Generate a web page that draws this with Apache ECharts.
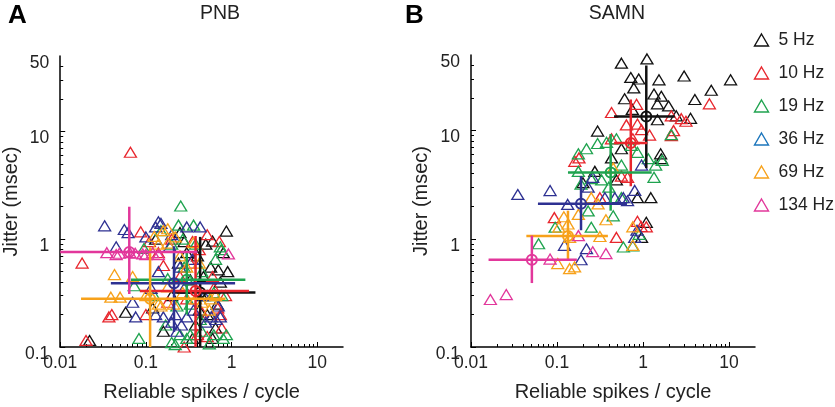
<!DOCTYPE html>
<html><head><meta charset="utf-8">
<script src="https://cdn.jsdelivr.net/npm/echarts@6/dist/echarts.min.js"></script>
<style>html,body{margin:0;padding:0;background:#fff}#c{width:835px;height:407px}</style>
</head><body><div id="c"></div>
<script>
// ---------- data ----------
const freqs = ['5 Hz','10 Hz','19 Hz','36 Hz','69 Hz','134 Hz'];
const colors = ['#111111','#e8262d','#1fa34f','#2e3192','#f7a11a','#e2379b'];
const legendColors = ['#111111','#e8262d','#1fa34f','#1b75bc','#f7a11a','#e2379b'];
const panelTitles = ['PNB','SAMN'];
const panelLetters = ['A','B'];
const xName = 'Reliable spikes / cycle';
const yName = 'Jitter (msec)';
const xTickLabels = ['0.01','0.1','1','10'];
const yTickLabels = ['0.1','1','10','50'];
const xMajorTicks = [0.01,0.1,1,10];
const yMajorTicks = [0.1,1,10];
const yLabelValues = [0.1,1,10,50];
const xMinorTicks = [0.02,0.03,0.04,0.05,0.06,0.07,0.08,0.09,0.2,0.3,0.4,0.5,0.6,0.7,0.8,0.9,2,3,4,5,6,7,8,9];
const yMinorTicks = [0.2,0.3,0.4,0.5,0.6,0.7,0.8,0.9,2,3,4,5,6,7,8,9,20,30,40];

// Panel A (PNB) : [reliable spikes/cycle, jitter ms]
const A_5Hz = [[0.87,1.19],[0.13,1.0],[0.6,0.96],[0.57,0.55],[0.7,0.52],[0.9,0.5],[0.47,0.45],[0.058,0.21],[0.16,0.14],[0.022,0.115],[0.12,0.23],[0.35,0.12],[0.6,0.12],[0.4,0.7],[0.74,0.4],[0.3,0.75],[0.45,0.3],[0.24,0.6],[0.52,0.2],[0.28,0.95],[0.68,0.25],[0.8,0.75],[0.38,0.16],[0.5,0.9],[0.2,0.3],[0.33,0.42],[0.65,0.15],[0.25,1.15],[0.42,0.22]];
const A_10Hz = [[0.066,6.4],[0.018,0.6],[0.037,0.19],[0.02,0.115],[0.28,0.1],[0.087,1.17],[0.1,0.2],[0.52,1.1],[0.72,0.95],[0.35,0.95],[0.69,0.23],[0.74,0.2],[0.77,0.15],[0.45,0.21],[0.16,0.57],[0.14,0.75],[0.52,0.125],[0.25,0.45],[0.3,0.28],[0.6,0.45],[0.42,0.8],[0.2,1.0],[0.11,0.95],[0.85,0.3],[0.04,0.2],[0.33,0.6],[0.62,0.35],[0.4,0.13],[0.18,0.26]];
const A_19Hz = [[0.255,2.03],[0.24,1.35],[0.36,1.35],[0.083,0.12],[0.2,0.11],[0.22,0.105],[0.55,0.107],[0.87,0.13],[0.8,0.12],[0.74,0.85],[0.76,0.8],[0.27,1.0],[0.125,0.3],[0.073,0.37],[0.23,0.24],[0.43,0.18],[0.25,0.13],[0.62,0.32],[0.77,0.3],[0.095,0.82],[0.18,0.43],[0.3,0.12],[0.33,0.13],[0.45,0.14],[0.62,0.13],[0.2,0.9],[0.45,0.5],[0.15,1.2],[0.65,0.65],[0.33,0.25],[0.28,0.55],[0.52,0.3],[0.38,0.9],[0.17,0.16]];
const A_36Hz = [[0.033,1.33],[0.056,1.23],[0.062,1.15],[0.045,0.85],[0.13,1.3],[0.14,1.45],[0.15,1.4],[0.3,1.3],[0.43,1.3],[0.14,0.5],[0.07,0.26],[0.076,0.19],[0.16,0.19],[0.2,0.17],[0.22,0.2],[0.26,0.16],[0.3,0.19],[0.58,0.19],[0.66,0.18],[0.74,0.19],[0.23,0.14],[0.19,0.86],[0.1,1.05],[0.25,0.55],[0.48,0.3],[0.115,0.35],[0.2,1.1],[0.36,0.22],[0.5,0.17],[0.13,0.2],[0.35,0.65],[0.28,0.35],[0.7,0.24]];
const A_69Hz = [[0.043,0.47],[0.039,0.29],[0.05,0.29],[0.18,1.25],[0.16,1.2],[0.36,0.93],[0.18,0.36],[0.38,0.28],[0.57,0.28],[0.125,1.06],[0.07,0.45],[0.21,0.25],[0.14,0.9],[0.18,0.92],[0.14,0.25],[0.15,0.24],[0.3,0.55],[0.45,0.26],[0.65,0.3],[0.1,0.3],[0.25,0.7],[0.55,0.22],[0.27,0.32],[0.22,1.05],[0.42,0.6]];
const A_134Hz = [[0.092,0.73],[0.065,0.75],[0.049,0.74],[0.1,0.72],[0.14,0.72],[0.045,0.72],[0.075,0.74],[0.12,0.75],[0.92,0.73],[0.035,0.75]];
// means: [x, y, xLow, xHigh, yLow, yHigh]
const A_means = [[0.43,0.32,0.2,1.9,0.1,1.05],[0.38,0.33,0.085,1.6,0.1,1.07],[0.3,0.42,0.067,1.45,0.2,0.78],[0.213,0.39,0.039,1.1,0.138,0.86],[0.112,0.28,0.0175,0.85,0.1,0.84],[0.064,0.76,0.01,0.4,0.31,2.0]];

// Panel B (SAMN)
const B_5Hz = [[0.56,42],[1.11,46],[0.72,31],[0.89,30],[1.53,29.5],[3.0,32],[10.4,29.5],[6.2,23.6],[4.0,19.4],[0.78,24.8],[1.34,21.8],[1.63,20.8],[0.61,19.7],[1.47,17.7],[1.98,16.9],[0.75,15.7],[2.43,13.7],[3.56,13],[1.47,12.6],[0.296,9.9],[0.56,6.8],[0.43,5.6],[1.6,6.1],[1.63,5.5],[0.275,4.2],[0.49,3.5],[0.2,3.3],[0.86,2.4],[1.23,2.4],[1.09,1.42],[0.96,1.03]];
const B_10Hz = [[5.9,17.7],[0.43,14.7],[0.84,17.5],[0.64,11.3],[0.86,11.5],[0.96,10.2],[1.19,9.1],[2.13,13.7],[2.78,12.9],[3.15,12.2],[2.26,10],[2.13,9.0],[0.43,8.4],[0.161,5.2],[0.56,3.8],[0.093,1.57],[0.49,1.03],[0.86,1.45],[1.09,1.29],[0.315,2.4],[0.76,8.4],[0.66,3.7],[0.18,5.6],[0.95,1.3]];
const B_19Hz = [[0.22,6.8],[0.177,6.1],[0.296,7.6],[0.376,7.8],[0.49,8.4],[0.86,6.3],[1.15,5.5],[1.4,4.8],[1.67,5.3],[1.34,3.7],[2.13,9.2],[0.56,4.8],[0.33,3.5],[0.19,3.2],[0.23,1.81],[0.25,1.28],[0.45,1.63],[0.56,2.4],[0.59,0.84],[0.76,0.86],[0.061,0.9],[0.095,1.28],[0.73,7.3],[0.177,4.2],[0.25,3.6],[0.4,3.0],[0.9,1.1]];
const B_36Hz = [[0.035,2.57],[0.083,2.79],[0.133,2.08],[0.47,2.4],[0.59,2.4],[0.8,2.8],[0.96,4.8],[0.26,3.7],[0.19,0.64],[0.22,0.81],[0.122,0.87],[0.8,1.03],[0.36,2.4],[0.66,2.25],[0.23,3.0],[0.85,1.2]];
const B_69Hz = [[0.134,1.37],[0.105,1.28],[0.177,1.68],[0.37,1.5],[0.315,1.05],[0.102,0.59],[0.14,0.53],[0.16,0.55],[0.76,1.29],[0.76,0.87],[0.14,1.03],[0.25,2.4],[0.3,2.1],[0.12,1.6],[0.45,4.5]];
const B_134Hz = [[0.0168,0.275],[0.0257,0.305],[0.083,0.65],[0.177,1.07],[0.26,0.76],[0.37,0.73]];
const B_means = [[1.09,13.5,0.46,2.34,4.5,40],[0.72,7.7,0.46,1.12,3.06,19.4],[0.42,4.1,0.134,1.26,1.82,9.3],[0.19,2.11,0.06,0.65,1.2,3.8],[0.134,1.06,0.044,0.39,0.64,1.82],[0.051,0.64,0.016,0.17,0.39,1.07]];

const panelPoints = [[A_5Hz,A_10Hz,A_19Hz,A_36Hz,A_69Hz,A_134Hz],[B_5Hz,B_10Hz,B_19Hz,B_36Hz,B_69Hz,B_134Hz]];
const panelMeans = [A_means, B_means];

// ---------- chart ----------
const FONT = '"Liberation Sans", Arial, Helvetica, sans-serif';
const chart = echarts.init(document.getElementById('c'), null, {renderer:'canvas'});
const grids = [
  {left:59, top:56, width:284, height:292},
  {left:471, top:55, width:284, height:297}
];
const X_MIN = 0.01, X_MAX = 20, Y_MIN = 0.1, Y_MAX = 50;
function fmt(list){
  return function(v){
    const s = String(+(+v).toPrecision(6));
    return list.indexOf(s) >= 0 ? s : '';
  };
}
const xAxes = [], yAxes = [], series = [];
grids.forEach((g, gi) => {
  xAxes.push({type:'log', logBase:10, gridIndex:gi, min:X_MIN, max:X_MAX, position:'bottom',
    name:xName, nameLocation:'middle', nameGap:35,
    nameTextStyle:{fontFamily:FONT, fontSize:20, color:'#222'},
    axisLine:{show:true, onZero:false, lineStyle:{color:'#000', width:1.5}},
    axisTick:{show:true, inside:true, length:5, customValues:xMajorTicks, lineStyle:{color:'#000', width:1}},
    axisLabel:{show:true, customValues:xMajorTicks, formatter:fmt(xTickLabels), margin:7, fontFamily:FONT, fontSize:17.5, color:'#222'},
    splitLine:{show:false}, minorTick:{show:false}});
  xAxes.push({type:'log', logBase:10, gridIndex:gi, min:X_MIN, max:X_MAX, position:'bottom',
    axisLine:{show:false}, axisLabel:{show:false}, splitLine:{show:false},
    axisTick:{show:true, inside:true, length:3, customValues:xMinorTicks, lineStyle:{color:'#000', width:1}}});
  yAxes.push({type:'log', logBase:10, gridIndex:gi, min:Y_MIN, max:Y_MAX, position:'left',
    name:yName, nameLocation:'middle', nameGap:37, nameRotate:90,
    nameTextStyle:{fontFamily:FONT, fontSize:20, color:'#222'},
    axisLine:{show:true, onZero:false, lineStyle:{color:'#000', width:1.5}},
    axisTick:{show:true, inside:true, length:5, customValues:yMajorTicks, lineStyle:{color:'#000', width:1}},
    axisLabel:{show:true, customValues:yLabelValues, formatter:fmt(yTickLabels), margin:11, verticalAlign:'top', lineHeight:14, fontFamily:FONT, fontSize:17.5, color:'#222'},
    splitLine:{show:false}});
  yAxes.push({type:'log', logBase:10, gridIndex:gi, min:Y_MIN, max:Y_MAX, position:'left',
    axisLine:{show:false}, axisLabel:{show:false}, splitLine:{show:false},
    axisTick:{show:true, inside:true, length:3, customValues:yMinorTicks, lineStyle:{color:'#000', width:1}}});

  const xi = gi*2, yi = gi*2;
  panelPoints[gi].forEach((pts, fi) => {
    series.push({type:'scatter', name:freqs[fi], xAxisIndex:xi, yAxisIndex:yi, data:pts,
      symbol:'triangle', symbolSize:[12,10], silent:true, z:2,
      itemStyle:{color:'none', borderColor:colors[fi], borderWidth:1.3, opacity:1}});
  });
  series.push({type:'custom', xAxisIndex:xi, yAxisIndex:yi, silent:true, clip:false, z:5,
    data: panelMeans[gi].map((m, fi) => m.concat([fi])),
    encode:{x:[0,2,3], y:[1,4,5]},
    renderItem:(params, api) => {
      const mx = api.value(0), my = api.value(1);
      const c = api.coord([mx,my]);
      const l = api.coord([api.value(2),my]), r = api.coord([api.value(3),my]);
      const b = api.coord([mx,api.value(4)]), t = api.coord([mx,api.value(5)]);
      const col = colors[api.value(6)];
      return {type:'group', children:[
        {type:'line', shape:{x1:l[0],y1:l[1],x2:r[0],y2:r[1]}, style:{stroke:col, lineWidth:2.5}},
        {type:'line', shape:{x1:t[0],y1:t[1],x2:b[0],y2:b[1]}, style:{stroke:col, lineWidth:2.5}},
        {type:'circle', shape:{cx:c[0],cy:c[1],r:5}, style:{stroke:col, fill:'none', lineWidth:2}}
      ]};
    }});
});

const option = {
  animation:false,
  backgroundColor:'#fff',
  grid: grids,
  xAxis: xAxes,
  yAxis: yAxes,
  legend:{orient:'vertical', left:752, top:31, padding:0, itemGap:15, itemWidth:14, itemHeight:12,
    icon:'triangle', selectedMode:false,
    textStyle:{fontFamily:FONT, fontSize:17.5, color:'#222', padding:[0,0,0,5]},
    data: freqs.map((f, i) => ({name:f, itemStyle:{color:'none', borderColor:legendColors[i], borderWidth:1.4}}))},
  graphic:[
    {type:'text', left:8, top:3, style:{text:panelLetters[0], font:'bold 26px ' + FONT, fill:'#000'}},
    {type:'text', left:405, top:3, style:{text:panelLetters[1], font:'bold 26px ' + FONT, fill:'#000'}},
    {type:'text', x:220, y:14, style:{text:panelTitles[0], font:'19.5px ' + FONT, fill:'#222', align:'center', verticalAlign:'middle'}},
    {type:'text', x:617, y:14, style:{text:panelTitles[1], font:'19.5px ' + FONT, fill:'#222', align:'center', verticalAlign:'middle'}}
  ],
  series: series
};
chart.setOption(option);
</script></body></html>
